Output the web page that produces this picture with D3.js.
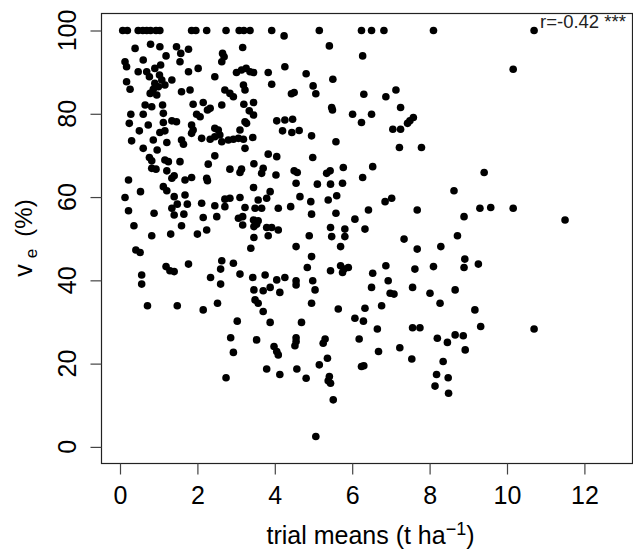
<!DOCTYPE html>
<html>
<head>
<meta charset="utf-8">
<script src="https://cdn.jsdelivr.net/npm/d3@7"></script>
<style>
  body { margin: 0; background: #fff; }
  text { font-family: "Liberation Sans", Arial, sans-serif; fill: #000; }
</style>
</head>
<body>
<div id="chart"></div>
<script>
// trial means (t/ha) and v_e (%), one entry per trial
let trialMeans = [
  0.07,0.19,0.47,0.59,0.69,0.79,0.93,1.03,1.85,1.96,2.24,2.74,3.08,3.20,3.36,3.92,
  0.39,0.79,1.03,1.46,1.57,1.77,1.19,3.17,2.65,2.69,
  2.63,0.13,0.17,0.60,0.47,0.69,0.76,0.90,1.05,1.02,
  1.08,1.55,1.77,2.02,2.45,3.01,3.14,3.26,3.36,3.45,
  3.83,3.92,0.17,0.26,0.90,0.99,0.86,1.16,1.34,0.78,
  0.95,1.59,1.81,2.71,2.84,2.93,3.19,3.23,0.65,0.82,
  1.10,1.89,2.15,2.26,2.33,2.63,3.20,3.45,0.28,0.60,
  1.12,1.98,2.07,3.34,3.45,0.24,0.73,1.12,1.34,1.46,
  1.85,1.89,2.45,2.54,3.27,3.23,4.05,0.50,1.03,1.16,
  1.85,2.33,2.45,2.58,3.10,2.11,0.30,0.86,1.21,1.59,
  1.64,2.63,2.80,2.93,3.06,3.19,3.43,0.60,0.96,3.23,
  0.76,0.82,1.16,1.25,1.55,2.45,2.28,3.46,3.83,4.05,
  4.24,5.15,6.24,6.50,6.82,8.10,5.41,6.27,4.26,4.81,
  5.50,4.99,5.06,4.43,4.50,6.30,6.87,7.13,7.25,5.47,
  5.49,6.01,6.50,6.24,7.58,7.49,7.43,4.26,4.46,4.20,
  4.44,4.63,4.95,7.05,7.25,5.58,7.22,7.79,4.98,10.70,10.16,
  0.82,0.93,1.21,1.34,1.40,1.68,1.85,2.24,2.26,2.84,
  3.14,3.10,3.70,3.66,4.03,0.22,0.53,0.13,1.12,1.21,
  1.40,1.68,0.22,1.34,1.48,1.74,0.88,1.40,1.65,2.11,
  2.45,2.71,2.84,3.10,2.71,3.23,3.45,3.57,3.79,3.88,
  3.49,3.66,4.09,2.15,2.50,3.06,3.17,3.17,3.45,3.57,
  3.46,3.53,3.79,3.92,4.09,0.36,1.59,0.82,1.31,2.00,
  2.24,3.46,3.83,3.38,0.41,0.52,1.77,1.19,1.29,1.40,
  2.63,2.60,2.93,3.10,0.56,0.56,2.34,2.60,3.43,3.75,
  4.05,3.46,3.70,3.88,4.13,3.49,3.57,0.71,1.48,2.15,2.52,3.70,
  4.50,4.58,5.34,5.43,5.77,6.53,4.55,5.10,5.44,5.75,
  6.27,8.63,4.65,4.93,5.38,5.60,6.85,7.02,4.41,4.95,
  5.58,6.42,7.68,6.07,6.33,5.44,5.81,5.47,5.81,4.89,
  7.34,8.72,4.55,5.70,7.68,8.29,4.95,4.84,5.70,5.79,
  5.90,5.75,5.44,6.87,6.53,7.62,8.10,4.26,4.55,4.55,
  4.98,6.93,5.04,6.50,6.98,7.08,7.56,8.01,8.66,4.95,
  5.64,6.33,6.76,8.27,
  9.41,9.30,9.58,10.16,8.89,11.50,8.91,8.89,9.26,9.17,
  3.03,3.88,2.86,3.53,2.93,3.98,4.05,4.09,3.79,2.74,4.13,
  4.69,6.07,6.29,6.65,7.56,7.75,8.20,8.46,8.66,4.55,
  4.55,4.52,5.30,5.25,6.18,5.36,5.15,6.68,7.23,7.54,
  8.35,6.24,6.30,4.57,4.81,5.41,5.38,5.44,5.51,8.18,
  8.48,8.14,8.49,5.06,
  8.87,9.32,8.92,10.70
];

let ve = [
  100,100,100,100,100,100,100,100,100,100,100,100,100,100,100,100,
  95.7,96.7,96.1,96.1,94.5,95.5,93.9,95.9,94.5,93.7,
  92.5,92.5,91.3,92.9,90.1,90.1,88.9,90.9,91.7,89.3,
  88.1,92.5,90.1,90.9,88.9,89.9,90.5,90.9,90.1,89.9,
  89.9,87.1,87.7,85.9,87.3,86.5,85.9,86.9,88.1,84.9,
  84.5,85.3,85.7,85.7,84.9,84.1,86.9,85.7,82.1,81.7,
  82.1,82.3,82.7,80.9,81.3,82.1,82.3,82.7,79.9,79.9,
  80.1,79.9,79.3,80.7,79.7,77.7,77.3,77.9,78.3,78.1,
  77.3,76.1,76.5,76.1,77.7,78.1,78.3,75.9,75.5,75.9,
  75.3,73.9,74.5,74.9,76.1,74.1,73.5,73.7,73.1,73.7,
  72.7,73.3,73.7,73.9,74.1,73.9,74.3,71.7,71.3,71.7,
  69.5,68.7,68.9,68.5,68.5,69.9,67.9,68.0,70.3,69.7,
  98.7,100,100,100,100,100,96.3,93.9,91.3,89.6,
  88.3,86.7,84.8,84.8,85.1,84.7,84.1,85.7,81.5,81.5,
  80.9,79.9,79.9,77.9,79.1,78.3,77.7,78.5,78.7,75.9,
  75.5,76.0,74.7,76.3,76.3,73.3,71.9,71.9,69.5,100,90.7,
  66.9,66.7,66.3,64.5,65.1,64.1,64.7,64.5,63.9,66.7,
  66.7,65.9,66.9,65.7,65.3,64.1,61.3,59.9,62.5,61.5,
  60.1,60.5,56.7,57.3,58.3,58.3,56.1,55.7,55.9,58.5,
  57.9,59.5,59.7,59.9,57.7,57.5,62.3,59.3,59.7,61.3,
  57.3,57.3,57.3,55.1,55.3,54.9,55.3,53.3,54.5,54.3,
  52.9,53.5,52.7,52.7,52.1,53.1,53.1,50.7,51.1,51.1,
  52.1,50.3,50.7,47.7,47.3,46.7,43.9,43.3,42.3,42.1,
  44.7,42.7,44.1,41.5,41.3,39.1,40.7,39.1,40.7,41.3,
  40.1,37.7,37.5,38.3,37.1,35.3,34.5,33.9,33.9,32.9,34.5,32.5,
  66.3,65.9,65.7,66.3,67.1,67.3,63.3,63.1,63.1,63.3,
  64.7,61.5,60.1,58.9,59.3,60.3,58.9,59.7,57.7,55.9,
  56.1,56.9,56.9,54.7,52.3,52.7,52.3,50.5,50.5,50.7,
  49.9,50.7,48.1,48.1,47.5,48.1,45.7,43.1,43.5,42.7,
  43.1,41.9,42.3,43.5,41.7,42.7,43.3,40.7,39.9,38.9,
  39.9,39.9,37.7,38.3,36.9,36.7,38.3,36.9,37.7,34.5,
  33.1,33.3,33.9,34.5,
  65.9,57.3,57.5,57.3,55.3,54.5,45.1,43.1,43.9,32.9,
  30.2,29.9,26.2,25.7,22.7,24.1,22.9,22.1,18.7,16.6,17.4,
  29.9,30.9,30.2,28.3,28.6,28.6,26.1,25.1,26.9,26.2,
  25.3,24.3,25.9,24.9,25.9,21.3,19.7,22.9,23.8,21.1,
  20.5,19.3,19.5,18.7,16.5,16.9,15.9,15.3,11.3,17.4,
  16.6,14.6,12.9,2.5,
  26.7,28.9,23.3,28.3
];

let xTicks = [0, 2, 4, 6, 8, 10, 12];
let yTicks = [0, 20, 40, 60, 80, 100];
let corrLabel = "r=-0.42 ***";

////////////////////////////////////////////////////////////////////////

let width = 633;
let height = 550;
let box = { left: 101, right: 632, top: 13, bottom: 463 };
let fontSize = 25;

let svg = d3.select("#chart")
  .append("svg")
  .attr("width", width).attr("height", height);

let xScale = d3.scaleLinear().domain([0, 12]).range([120, 584.4]);
let yScale = d3.scaleLinear().domain([0, 100]).range([446.9, 30.5]);

let data = trialMeans.map((d, i) => ({ x: d, y: ve[i] }));

// points
svg.append("g")
  .selectAll("circle")
  .data(data)
  .enter()
  .append("circle")
  .attr("cx", d => xScale(d.x))
  .attr("cy", d => yScale(d.y))
  .attr("r", 3.8)
  .attr("fill", "#000");

// plot box
svg.append("rect")
  .attr("x", box.left + 0.5)
  .attr("y", box.top + 0.5)
  .attr("width", box.right - box.left)
  .attr("height", box.bottom - box.top)
  .attr("fill", "none")
  .attr("stroke", "#222")
  .attr("stroke-width", 1.2);

// x axis
let xAxis = svg.append("g")
  .attr("transform", "translate(0," + (box.bottom + 0.5) + ")")
  .call(d3.axisBottom(xScale).tickValues(xTicks).tickSize(11).tickPadding(12));
xAxis.select(".domain").remove();
xAxis.selectAll("line").attr("stroke", "#444").attr("stroke-width", 1.2);
xAxis.selectAll("text")
  .style("font-size", fontSize + "px")
  .attr("fill", "#000");
xAxis.attr("font-family", null).attr("font-size", null);

// y axis
let yAxis = svg.append("g")
  .attr("transform", "translate(" + (box.left + 0.5) + ",0)")
  .call(d3.axisLeft(yScale).tickValues(yTicks).tickSize(11));
yAxis.select(".domain").remove();
yAxis.selectAll("line").attr("stroke", "#444").attr("stroke-width", 1.2);
yAxis.selectAll("text").remove();
yAxis.attr("font-family", null).attr("font-size", null);

svg.append("g")
  .selectAll("text")
  .data(yTicks)
  .enter()
  .append("text")
  .attr("transform", d => "translate(76," + yScale(d) + ") rotate(-90)")
  .attr("text-anchor", "middle")
  .style("font-size", fontSize + "px")
  .text(d => d);

// axis titles
let xTitle = svg.append("text")
  .attr("x", (box.left + box.right) / 2 + 4)
  .attr("y", 544)
  .attr("text-anchor", "middle")
  .style("font-size", fontSize + "px");
xTitle.append("tspan").text("trial means (t ha");
xTitle.append("tspan").attr("baseline-shift", "9").style("font-size", "18px").text("\u22121");
xTitle.append("tspan").text(")");

let yTitle = svg.append("text")
  .attr("transform", "translate(32,238) rotate(-90)")
  .attr("text-anchor", "middle")
  .style("font-size", fontSize + "px");
yTitle.append("tspan").text("v");
yTitle.append("tspan").attr("dx", 6).attr("baseline-shift", "-5").style("font-size", "17px").text("e");
yTitle.append("tspan").attr("dx", 12).style("font-size", "24px").text("(%)");

// correlation note
svg.append("text")
  .attr("x", 540)
  .attr("y", 28)
  .style("font-size", "18.5px")
  .style("fill", "#222")
  .text(corrLabel);
</script>
</body>
</html>
